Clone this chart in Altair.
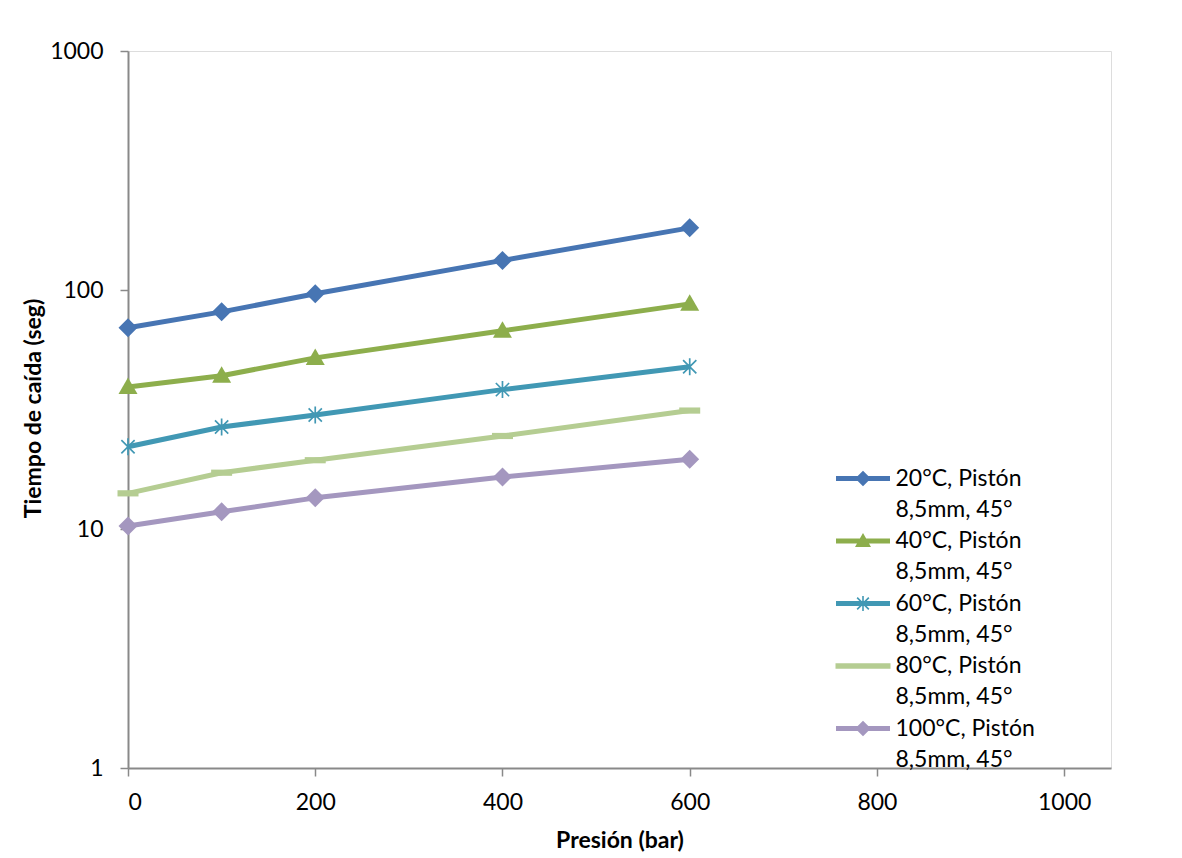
import math
import altair as alt
import pandas as pd

# ---------------- data ----------------
pressure = [0, 100, 200, 400, 600]
series_names = ["20°C, Pistón", "40°C, Pistón", "60°C, Pistón", "80°C, Pistón", "100°C, Pistón"]
series_suffix = "8,5mm, 45°"
t_20 = [69.5, 81.0, 96.5, 133.0, 182.0]
t_40 = [39.3, 43.8, 52.0, 67.5, 87.5]
t_60 = [22.1, 26.7, 30.0, 38.3, 47.7]
t_80 = [14.1, 17.2, 19.4, 24.5, 31.3]
t_100 = [10.3, 11.8, 13.5, 16.5, 19.6]
x_ticks = [0, 200, 400, 600, 800, 1000]
y_ticks = [1, 10, 100, 1000]

# ---------------- styles ----------------
colors = ["#4775B3", "#8DAE4C", "#4198B4", "#B5CD92", "#A497BF"]
FONT = "Lato"
AXIS_GRAY = "#898989"


def fmt(v):
    s = f"{v:.3f}".rstrip("0").rstrip(".")
    return "0" if s in ("-0", "") else s


def poly(pts):
    return "M" + "L".join(f"{fmt(x)},{fmt(y)}" for x, y in pts) + "Z"


def bar(x1, y1, x2, y2, t):
    dx, dy = x2 - x1, y2 - y1
    L = math.hypot(dx, dy)
    nx, ny = dy / L * t / 2, -dx / L * t / 2
    return poly([(x1 + nx, y1 + ny), (x2 + nx, y2 + ny), (x2 - nx, y2 - ny), (x1 - nx, y1 - ny)])


def diamond(h):
    return poly([(0, -h), (h, 0), (0, h), (-h, 0)])


def triangle(w, top, bot):
    return poly([(0, -top), (w, bot), (-w, bot)])


def asterisk(a, t):
    d = a * 0.78
    return bar(0, -a, 0, a, t) + bar(-d, -d, d, d, t) + bar(-d, d, d, -d, t)


# data-point markers (unit = 10px, size 400)
marker_paths = [
    diamond(0.95),
    triangle(0.95, 0.95, 0.7),
    asterisk(0.85, 0.17),
    bar(-1.05, 0, 1.05, 0, 0.62),
    diamond(0.95),
]

# legend symbols: line + marker (unit = 10px, symbolSize 400)
legend_line = bar(-2.7, 0, 2.7, 0, 0.5)
legend_markers = [
    diamond(0.78),
    triangle(0.8, 0.8, 0.6),
    asterisk(0.75, 0.16),
    bar(-2.75, 0, 2.75, 0, 0.55),
    diamond(0.78),
]

legend_keys, legend_fill, legend_shapes = [], [], []
for name, col, mk in zip(series_names, colors, legend_markers):
    legend_keys += [name, name + "~"]
    legend_fill += [col, "transparent"]
    legend_shapes += [legend_line + mk, "M0,0L0.01,0L0,0.01Z"]

rows = []
for name, vals in zip(series_names, [t_20, t_40, t_60, t_80, t_100]):
    for p, v in zip(pressure, vals):
        rows.append({"serie": name, "presion": p, "tiempo": v})
df = pd.DataFrame(rows)

# ---------------- encodings ----------------
x_enc = alt.X(
    "presion:Q",
    scale=alt.Scale(domain=[0, 1050], nice=False, zero=False),
    axis=alt.Axis(
        values=x_ticks, format="d", title="Presión (bar)", grid=False,
        domainColor=AXIS_GRAY, domainWidth=2, tickColor=AXIS_GRAY, tickWidth=1.5, tickSize=8,
        labelFont=FONT, labelFontSize=23, labelColor="black", labelPadding=15,
        titleFont=FONT, titleFontSize=23, titleFontWeight="bold", titleColor="black",
        titleY=72, titleBaseline="middle",
    ),
)
y_enc = alt.Y(
    "tiempo:Q",
    scale=alt.Scale(type="log", domain=[1, 1000], nice=False),
    axis=alt.Axis(
        values=y_ticks, format="d", title="Tiempo de caída (seg)", grid=False,
        domainColor=AXIS_GRAY, domainWidth=2, tickColor=AXIS_GRAY, tickWidth=1.5, tickSize=8,
        labelFont=FONT, labelFontSize=23, labelColor="black", labelPadding=17,
        titleFont=FONT, titleFontSize=23, titleFontWeight="bold", titleColor="black",
        titleX=-95, titleY=357, titleAngle=270, titleAlign="center", titleBaseline="middle",
    ),
)
color_enc = alt.Color("serie:N", scale=alt.Scale(domain=series_names, range=colors), legend=None)

lines = alt.Chart(df).mark_line(strokeWidth=5, strokeJoin="round").encode(
    x=x_enc, y=y_enc, color=color_enc
)
points = alt.Chart(df).mark_point(filled=True, opacity=1, size=400, strokeWidth=0).encode(
    x=x_enc,
    y=y_enc,
    color=color_enc,
    shape=alt.Shape("serie:N", scale=alt.Scale(domain=series_names, range=marker_paths), legend=None),
)

leg = alt.Legend(
    orient="none", legendX=708, legendY=416, direction="vertical", title=None,
    labelFont=FONT, labelFontSize=23, labelColor="black", labelLimit=0,
    labelOffset=21, symbolOffset=15.5, symbolSize=400, symbolStrokeWidth=0,
    rowPadding=7.25, padding=0,
    labelExpr=f"indexof(datum.label, '~') >= 0 ? '{series_suffix}' : datum.label",
)
legend_layer = (
    alt.Chart(pd.DataFrame({"k": legend_keys}))
    .transform_filter("datum.k == '__none__'")
    .mark_point(filled=True, opacity=1, strokeWidth=0)
    .encode(
        fill=alt.Fill("k:N", scale=alt.Scale(domain=legend_keys, range=legend_fill), legend=leg),
        shape=alt.Shape("k:N", scale=alt.Scale(domain=legend_keys, range=legend_shapes), legend=leg),
    )
)

chart = (
    alt.layer(lines, points, legend_layer)
    .resolve_scale(shape="independent", fill="independent")
    .properties(
        width=983,
        height=717,
        padding={"left": 120, "top": 43, "right": 50, "bottom": 86},
        autosize=alt.AutoSizeParams(type="none"),
        background="white",
    )
    .configure_view(stroke=None)
    .configure(font=FONT)
)

chart.save("out.html", embed_options={"renderer": "svg", "actions": False})
